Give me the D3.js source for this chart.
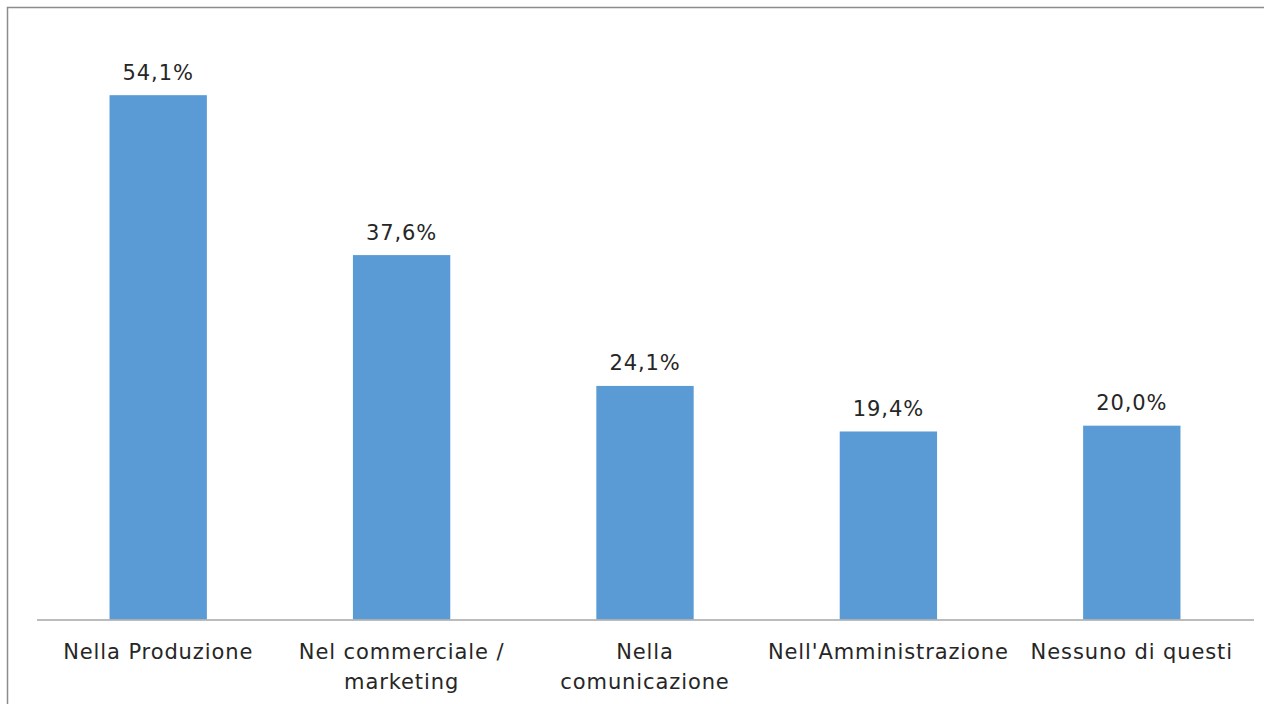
<!DOCTYPE html>
<html>
<head>
<meta charset="utf-8">
<script src="https://cdn.jsdelivr.net/npm/d3@7"></script>
<style>
  html, body { margin: 0; padding: 0; background: #fff; }
  svg { display: block; }
  text { font-family: "Century Gothic", "DejaVu Sans", sans-serif; fill: #262626; letter-spacing: 0.9px; }
</style>
</head>
<body>
<svg id="chart" width="1264" height="704"></svg>
<script>
// Dove utilizzate le tecnologie digitali (% risposte)
const categories = ["Nella Produzione", "Nel commerciale / marketing", "Nella comunicazione", "Nell'Amministrazione", "Nessuno di questi"];
const values = [54.1, 37.6, 24.1, 19.4, 20.0];
const valueLabels = ["54,1%", "37,6%", "24,1%", "19,4%", "20,0%"];

const W = 1264, H = 704;
const margin = { top: 38, left: 36.5, right: 10.5, bottom: 84.5 };
const fontSize = 21;
const svg = d3.select("#chart");

// chart frame
svg.append("rect")
  .attr("x", 7.5).attr("y", 7.5)
  .attr("width", W + 20).attr("height", H + 20)
  .attr("fill", "none").attr("stroke", "#8c8c8c").attr("stroke-width", 1.5);

const x = d3.scaleBand()
  .domain(categories)
  .range([margin.left, W - margin.right])
  .paddingInner(0.6).paddingOuter(0.3);

const y = d3.scaleLinear()
  .domain([0, 60])
  .range([H - margin.bottom, margin.top]);

const data = categories.map((c, i) => ({ c, v: values[i], label: valueLabels[i] }));

svg.append("g").selectAll("rect")
  .data(data).join("rect")
  .attr("x", d => x(d.c))
  .attr("y", d => y(d.v))
  .attr("width", x.bandwidth())
  .attr("height", d => y(0) - y(d.v))
  .attr("fill", "#5b9bd5");

svg.append("g").selectAll("text")
  .data(data).join("text")
  .attr("x", d => x(d.c) + x.bandwidth() / 2)
  .attr("y", d => y(d.v) - 15.5)
  .attr("text-anchor", "middle")
  .attr("font-size", fontSize)
  .text(d => d.label);

// category axis
const axis = svg.append("g")
  .attr("transform", `translate(0,${y(0)})`)
  .call(d3.axisBottom(x).tickSize(0).tickPadding(24.5));
axis.select(".domain").attr("stroke", "#a6a6a6").attr("stroke-width", 1.5);
axis.selectAll(".tick text")
  .attr("font-size", fontSize)
  .attr("fill", "#262626")
  .call(wrap, x.step() * 0.9);

// break multi-word labels onto extra lines when they exceed the slot width
function wrap(sel, width) {
  sel.each(function () {
    const t = d3.select(this);
    const words = t.text().split(/\s+/);
    const x0 = t.attr("x") || 0;
    const dy = parseFloat(t.attr("dy")) || 0;
    t.text(null);
    let line = [];
    let tspan = t.append("tspan").attr("x", x0).attr("dy", dy + "em");
    words.forEach(w => {
      line.push(w);
      tspan.text(line.join(" "));
      if (tspan.node().getComputedTextLength() > width && line.length > 1) {
        line.pop();
        tspan.text(line.join(" "));
        line = [w];
        tspan = t.append("tspan").attr("x", x0).attr("dy", "1.43em").text(w);
      }
    });
  });
}
</script>
</body>
</html>
